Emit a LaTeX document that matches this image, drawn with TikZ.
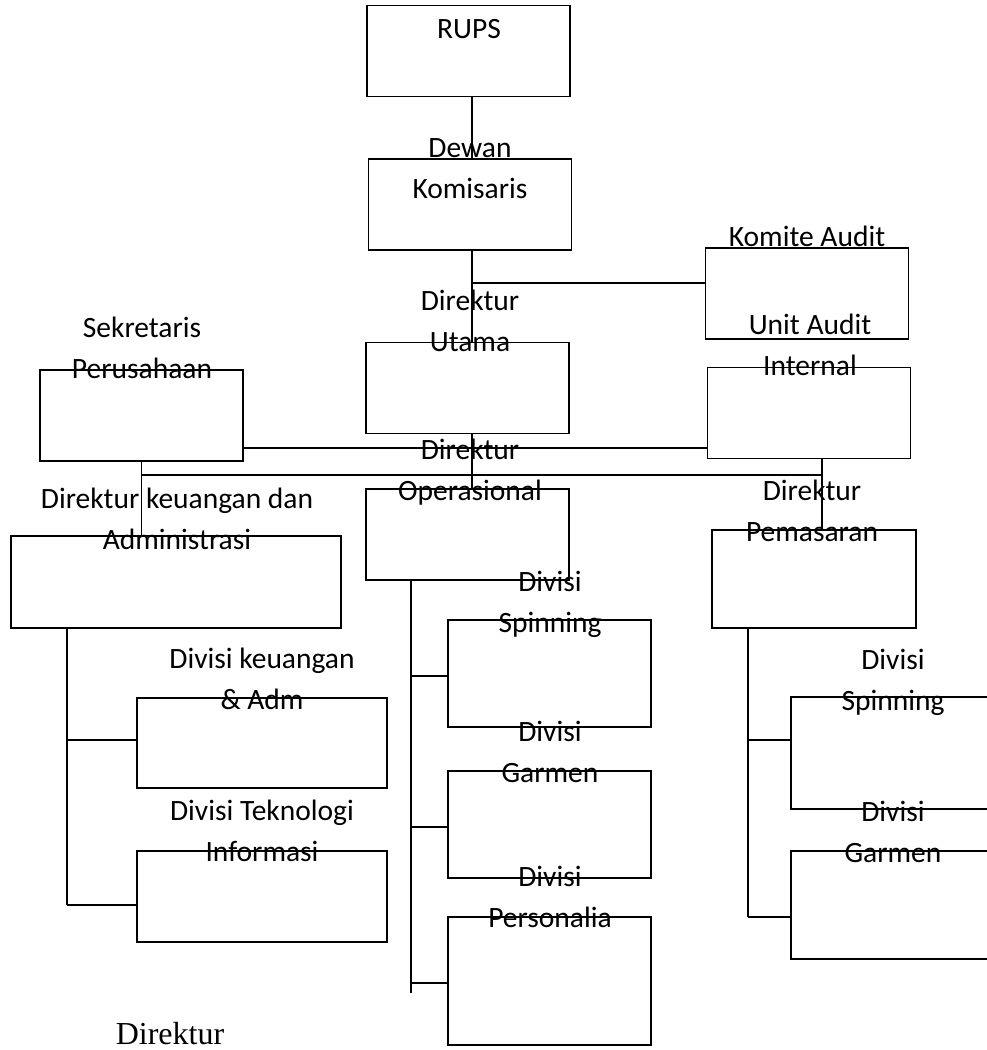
\documentclass[tikz,border=0pt]{standalone}
\usepackage{fontspec}
\setmainfont{Carlito}
\newfontfamily\serifdir{Liberation Serif}

\begin{document}
\begin{tikzpicture}[x=1pt, y=-1pt, line width=1.7pt,
  box/.style={draw, inner sep=0pt, minimum width=203pt, minimum height=91pt},
  lbl/.style={inner sep=0pt, align=center, anchor=base,
    font=\fontsize{29.5}{41}\selectfont}]
  \useasboundingbox (0,0) rectangle (987,1050);
  \clip (0,0) rectangle (987,1050);
  % Boards
  \node[box] (rups) at (468.5,51) {};
  \node[box] (dewan) at (470,204.5) {};
  \node[box] (komite) at (807,293.5) {};
  \node[box] (utama) at (467.5,388) {};
  \node[box] (internal) at (809,413) {};
  \node[box] (sekretaris) at (141.5,415.5) {};
  % Directors
  \node[box] (operasional) at (467.5,534.5) {};
  \node[box, minimum width=330pt, minimum height=92pt] (keuangan) at (176,582) {};
  \node[box, minimum width=204pt, minimum height=98pt] (pemasaran) at (814,579) {};
  % Divisions
  \node[box, minimum width=250pt, minimum height=90pt] (divKeu) at (262,743) {};
  \node[box, minimum width=250pt] (divTI) at (262,896.5) {};
  \node[box, minimum height=107pt] (divSpin) at (549.5,673.5) {};
  \node[box, minimum height=107pt] (divGar) at (549.5,824.5) {};
  \node[box, minimum height=128pt] (divPers) at (549.5,981) {};
  \node[box, minimum width=206pt, minimum height=112pt] (pemSpin) at (894,753) {};
  \node[box, minimum width=206pt, minimum height=108pt] (pemGar) at (894,905) {};

  % Spine
  \coordinate (spine) at (472,0);
  \draw (spine |- rups.south) -- (spine |- dewan.north);
  \draw (spine |- dewan.south) -- (spine |- utama.north);
  \draw (spine |- utama.south) -- (spine |- operasional.north);
  \coordinate (audit) at (472,283);
  \draw (audit) -- (audit -| komite.west);
  \coordinate (staff) at (0,448);
  \draw (staff -| sekretaris.east) -- (staff -| internal.west);
  \coordinate (direksi) at (0,475);
  \coordinate (pemX) at (822,0);
  \draw (direksi -| sekretaris.south) -- (direksi -| pemX);
  \draw (sekretaris.south) -- (sekretaris.south |- keuangan.north);
  \draw (pemX |- internal.south) -- (pemX |- pemasaran.north);

  % Branches
  \coordinate (keuX) at (67,0);
  \draw (keuX |- keuangan.south) -- (keuX |- 0,905);
  \foreach \y/\n in {740/divKeu, 905/divTI}
    \draw (keuX |- 0,\y) -- (\n.west |- 0,\y);
  \coordinate (opsX) at (411,0);
  \draw (opsX |- operasional.south) -- (opsX |- 0,993);
  \foreach \y/\n in {676/divSpin, 827/divGar, 983/divPers}
    \draw (opsX |- 0,\y) -- (\n.west |- 0,\y);
  \coordinate (pemY) at (748,0);
  \draw (pemY |- pemasaran.south) -- (pemY |- 0,917);
  \foreach \y/\n in {740/pemSpin, 917/pemGar}
    \draw (pemY |- 0,\y) -- (\n.west |- 0,\y);

  % Labels (base = last line)
  \node[lbl] (tRups) at (469,38) {RUPS};
  \node[lbl] (tDewan) at (470,198) {Dewan\\Komisaris};
  \node[lbl] (tKomite) at (807,246) {Komite Audit};
  \node[lbl] (tInternal) at (810,375) {Unit Audit\\Internal};
  \node[lbl] (tUtama) at (470,351) {Direktur\\Utama};
  \node[lbl] (tSekr) at (142,378) {Sekretaris\\Perusahaan};
  \node[lbl] (tOps) at (470,500) {Direktur\\Operasional};
  \node[lbl] (tKeu) at (177,549) {Direktur keuangan dan\\Administrasi};
  \node[lbl] (tPem) at (812,541) {Direktur\\Pemasaran};
  \node[lbl] (tDivKeu) at (262,709) {Divisi keuangan\\\& Adm};
  \node[lbl] (tDivTI) at (262,861) {Divisi Teknologi\\Informasi};
  \node[lbl] (tDivSpin) at (550,632) {Divisi\\Spinning};
  \node[lbl] (tDivGar) at (550,782) {Divisi\\Garmen};
  \node[lbl] (tDivPers) at (550,927) {Divisi\\Personalia};
  \node[lbl] (tPemSpin) at (893,710) {Divisi\\Spinning};
  \node[lbl] (tPemGar) at (893,862) {Divisi\\Garmen};
  \node[lbl, font=\serifdir\fontsize{32}{38}\selectfont] (tDir) at (170,1044) {Direktur};
\end{tikzpicture}
\end{document}
